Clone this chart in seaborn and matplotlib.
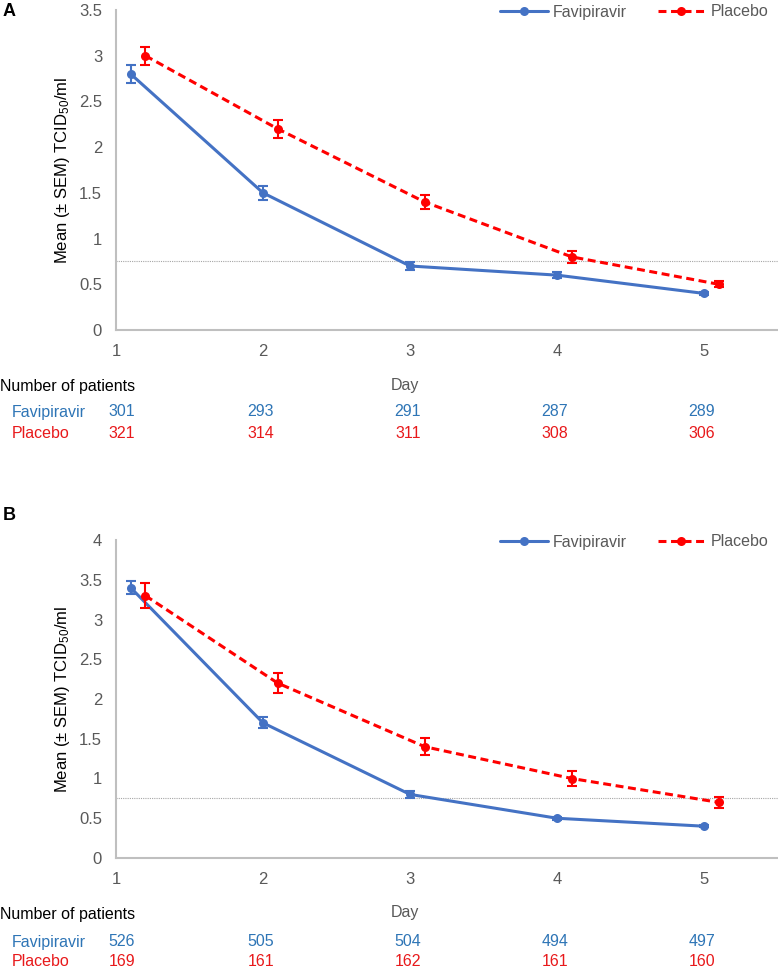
import matplotlib
matplotlib.use("Agg")
import matplotlib.pyplot as plt
import matplotlib.transforms as mtransforms
from matplotlib.lines import Line2D
from matplotlib.ticker import FuncFormatter
import numpy as np
import pandas as pd
import seaborn as sns

# ---- data ----
days = [1, 2, 3, 4, 5]
fav_day = [1.1, 2, 3, 4, 5]
pla_day = [1.2, 2.1, 3.1, 4.1, 5.1]

a_fav_mean = [2.8, 1.5, 0.7, 0.6, 0.4]
a_fav_sem = [0.1, 0.08, 0.04, 0.035, 0.015]
a_pla_mean = [3.0, 2.2, 1.4, 0.8, 0.5]
a_pla_sem = [0.1, 0.1, 0.08, 0.065, 0.035]
a_fav_n = [301, 293, 291, 287, 289]
a_pla_n = [321, 314, 311, 308, 306]

b_fav_mean = [3.4, 1.7, 0.8, 0.5, 0.4]
b_fav_sem = [0.085, 0.07, 0.04, 0.02, 0.015]
b_pla_mean = [3.3, 2.2, 1.4, 1.0, 0.7]
b_pla_sem = [0.155, 0.13, 0.11, 0.09, 0.07]
b_fav_n = [526, 505, 504, 494, 497]
b_pla_n = [169, 161, 162, 161, 160]

threshold = 0.75

BLUE = "#4472C4"
RED = "#FF0000"
BLUE_TXT = "#2E75B6"
RED_TXT = "#E8191B"
GREY = "#595959"

sns.set_theme(style="white")
plt.rcParams["font.family"] = ["Liberation Sans", "DejaVu Sans"]
plt.rcParams["mathtext.fontset"] = "custom"
plt.rcParams["mathtext.rm"] = "Liberation Sans"
plt.rcParams["mathtext.it"] = "Liberation Sans:italic"

W, H = 778, 969
fig = plt.figure(figsize=(W / 100, H / 100), dpi=100)


def fx(px):
    return px / W


def fy(py):
    return 1 - py / H


def panel(letter, letter_y, top, bottom, ymax, fav_mean, fav_sem, pla_mean,
          pla_sem, fav_n, pla_n, rows_y):
    ax = fig.add_axes([fx(116), fy(bottom), fx(778) - fx(116), (bottom - top) / H])

    df = pd.DataFrame({
        "day": fav_day + pla_day,
        "mean": fav_mean + pla_mean,
        "group": ["Favipiravir"] * len(fav_day) + ["Placebo"] * len(pla_day),
    })
    sns.lineplot(data=df, x="day", y="mean", hue="group", style="group",
                 palette={"Favipiravir": BLUE, "Placebo": RED},
                 dashes={"Favipiravir": "", "Placebo": (2.6, 1.5)},
                 markers={"Favipiravir": "o", "Placebo": "o"},
                 markersize=6.5, markeredgewidth=0, linewidth=2.2,
                 legend=False, ax=ax, zorder=3)
    ax.errorbar(fav_day, fav_mean, yerr=fav_sem, fmt="none", ecolor=BLUE,
                elinewidth=1.5, capsize=3.5, capthick=1.5, zorder=4)
    ax.errorbar(pla_day, pla_mean, yerr=pla_sem, fmt="none", ecolor=RED,
                elinewidth=1.5, capsize=3.5, capthick=1.5, zorder=4)

    ax.axhline(threshold, color="#A6A6A6", lw=0.8, ls=(0, (1, 1)), zorder=1)

    ax.set_xlim(1, 1 + 662 / 147)
    ax.set_ylim(0, ymax)
    ax.set_xticks(days)
    ax.set_yticks(np.arange(0, ymax + 0.01, 0.5))
    ax.yaxis.set_major_formatter(FuncFormatter(lambda v, p: f"{v:g}"))
    ax.tick_params(length=0, pad=10, labelsize=12, labelcolor=GREY)
    ax.set_xlabel("")
    ax.set_ylabel(r"Mean (± SEM) TCID$_{50}$/ml", fontsize=12, color="black")
    ax.yaxis.set_label_coords(-0.066, 0.5)
    for s in ["top", "right"]:
        ax.spines[s].set_visible(False)
    for s in ["left", "bottom"]:
        ax.spines[s].set_color("#BFBFBF")
        ax.spines[s].set_linewidth(1.5)

    handles = [
        Line2D([], [], color=BLUE, lw=2.2, marker="o", ms=6.5, mew=0),
        Line2D([], [], color=RED, lw=2.2, marker="o", ms=6.5, mew=0,
               dashes=(2.6, 1.5)),
    ]
    ax.legend(handles, ["Favipiravir", "Placebo"], loc="center right",
              bbox_to_anchor=(fx(768), fy(top + 2)), bbox_transform=fig.transFigure,
              ncol=2, frameon=False, fontsize=11.5, labelcolor=GREY,
              handlelength=2.95, handletextpad=0.35, columnspacing=1.9,
              borderpad=0, borderaxespad=0)

    fig.text(fx(3), fy(letter_y), letter, fontsize=13, fontweight="bold",
             ha="left", va="center", color="black")

    head_y, fav_y, pla_y = rows_y
    fig.text(fx(0), fy(head_y), "Number of patients", fontsize=11.5,
             ha="left", va="center", color="black")
    fig.text(fx(405), fy(head_y - 2), "Day", fontsize=11.5,
             ha="center", va="center", color=GREY)
    fig.text(fx(12), fy(fav_y), "Favipiravir", fontsize=11.5,
             ha="left", va="center", color=BLUE_TXT)
    fig.text(fx(12), fy(pla_y), "Placebo", fontsize=11.5,
             ha="left", va="center", color=RED_TXT)
    trans = mtransforms.blended_transform_factory(ax.transData, fig.transFigure)
    for d, nf, npl in zip(days, fav_n, pla_n):
        xpos = d + 0.04 if d == 1 else d - 0.015
        fig.text(xpos, fy(fav_y), str(nf), fontsize=11.5, ha="center",
                 va="center", color=BLUE_TXT, transform=trans)
        fig.text(xpos, fy(pla_y), str(npl), fontsize=11.5, ha="center",
                 va="center", color=RED_TXT, transform=trans)
    return ax


panel("A", 12, 10, 330, 3.5, a_fav_mean, a_fav_sem, a_pla_mean, a_pla_sem,
      a_fav_n, a_pla_n, (387, 412, 434))
panel("B", 515, 540, 858, 4.0, b_fav_mean, b_fav_sem, b_pla_mean, b_pla_sem,
      b_fav_n, b_pla_n, (915, 942, 962))

fig.savefig("out.png", dpi=100)
